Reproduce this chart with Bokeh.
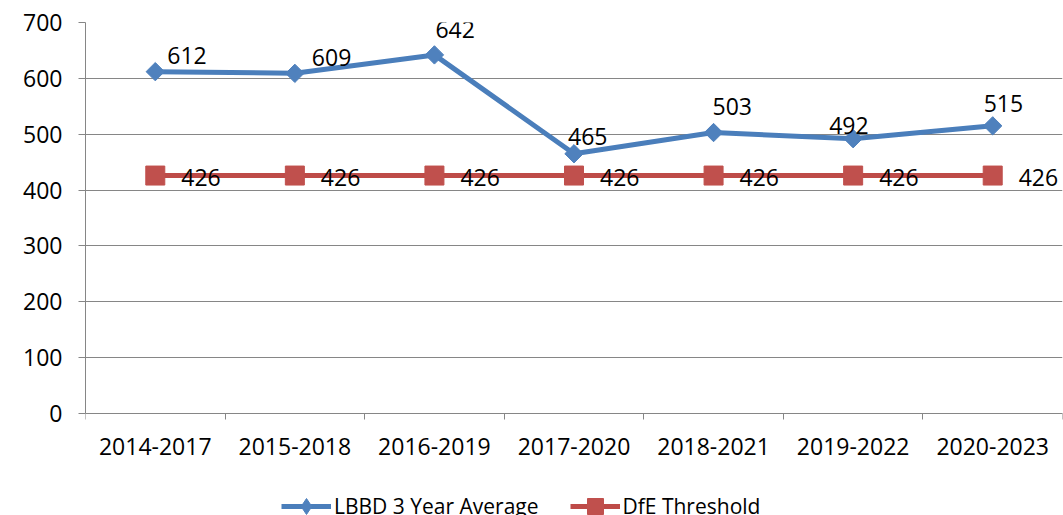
import numpy as np
from bokeh.plotting import figure
from bokeh.models import (ColumnDataSource, Range1d, FixedTicker, Legend, LegendItem,
                          LinearAxis)
from bokeh.core.properties import value
from bokeh.embed import file_html
from bokeh.resources import INLINE

# ---- data ----
categories = ["2014-2017", "2015-2018", "2016-2019", "2017-2020",
              "2018-2021", "2019-2022", "2020-2023"]
lbbd_avg = [612, 609, 642, 465, 503, 492, 515]
dfe_threshold = [426, 426, 426, 426, 426, 426, 426]
y_ticks = [0, 100, 200, 300, 400, 500, 600, 700]

# label placement tweaks (pixels) for the data labels
blue_dx = [12, 17, 1, -6, -1, -24, -9]
blue_dy = [-16, -16, -25, -17, -26, -13, -22]

FONT = "Open Sans"
FS = "23px"
BLUE_LINE = "#4A7EBB"
BLUE_MARK = "#4F81BD"
RED_LINE = "#BE4B48"
RED_MARK = "#C0504D"
GRID = "#868686"

W, H = 1063, 515
LEFT, RIGHT, TOP = 85, 1, 22
AXIS_Y = 413  # pixel row of value 0
YMAX = 700
units_per_px = YMAX / (AXIS_Y - TOP)
YMIN = -(H - AXIS_Y) * units_per_px

n = len(categories)
xs = [i + 0.5 for i in range(n)]

src_b = ColumnDataSource(dict(x=xs, y=lbbd_avg, t=[str(v) for v in lbbd_avg],
                              dx=blue_dx, dy=blue_dy))
src_r = ColumnDataSource(dict(x=xs, y=dfe_threshold, t=[str(v) for v in dfe_threshold]))

p = figure(width=W, height=H, output_backend="svg", toolbar_location=None,
           x_range=Range1d(0, n), y_range=Range1d(YMIN, YMAX),
           min_border_left=LEFT, min_border_right=RIGHT, min_border_top=TOP,
           min_border_bottom=0, x_axis_location=None, y_axis_location=None)
p.outline_line_color = None
p.background_fill_color = "white"
p.border_fill_color = "white"

# y axis
yax = LinearAxis(ticker=FixedTicker(ticks=y_ticks, minor_ticks=[]), bounds=(0, YMAX))
yax.axis_line_color = GRID
yax.major_tick_line_color = GRID
yax.major_tick_out = 7
yax.major_tick_in = 0
yax.minor_tick_line_color = None
yax.major_label_text_font = FONT
yax.major_label_text_font_size = FS
yax.major_label_text_color = "black"
yax.major_label_standoff = 16
p.add_layout(yax, "left")

# x axis: labels at category centres, tick marks at boundaries, fixed at value 0
xax = LinearAxis(ticker=FixedTicker(ticks=xs, minor_ticks=list(range(n + 1))),
                 fixed_location=0)
xax.major_label_overrides = {x: c for x, c in zip(xs, categories)}
xax.axis_line_color = GRID
xax.major_tick_line_color = None
xax.major_tick_out = 0
xax.major_tick_in = 0
xax.minor_tick_line_color = GRID
xax.minor_tick_out = 6
xax.minor_tick_in = 0
xax.major_label_text_font = FONT
xax.major_label_text_font_size = FS
xax.major_label_text_color = "black"
xax.major_label_standoff = 18
p.add_layout(xax, "below")

p.xgrid.visible = False
p.ygrid.ticker = FixedTicker(ticks=y_ticks)
p.ygrid.grid_line_color = GRID
p.ygrid.grid_line_width = 1

# series
lb = p.line("x", "y", source=src_b, line_color=BLUE_LINE, line_width=5)
# diamond glyph (used by the legend), covered by the rotated-square marker
mb_leg = p.scatter("x", "y", source=src_b, marker="diamond", size=16,
                   fill_color=BLUE_MARK, line_color=BLUE_MARK)
mb = p.scatter("x", "y", source=src_b, marker="square", angle=np.pi / 4, size=13,
               fill_color=BLUE_MARK, line_color=BLUE_MARK)
lr = p.line("x", "y", source=src_r, line_color=RED_LINE, line_width=5)
mr = p.scatter("x", "y", source=src_r, marker="square", size=19,
               fill_color=RED_MARK, line_color=RED_MARK)

# data labels
p.text("x", "y", text="t", source=src_b, x_offset="dx", y_offset="dy",
       text_font=value(FONT), text_font_size=FS, text_color="black",
       text_align="left", text_baseline="middle")
p.text("x", "y", text="t", source=src_r, x_offset=26, y_offset=2,
       text_font=value(FONT), text_font_size=FS, text_color="black",
       text_align="left", text_baseline="middle")

legend = Legend(items=[LegendItem(label="LBBD 3 Year Average", renderers=[lb, mb_leg]),
                       LegendItem(label="DfE Threshold", renderers=[lr, mr])],
                orientation="horizontal", location=(196, -11))
legend.border_line_color = None
legend.background_fill_alpha = 0
legend.padding = 0
legend.margin = 0
legend.spacing = 31
legend.glyph_width = 50
legend.glyph_height = 40
legend.label_standoff = 3
legend.label_text_font = FONT
legend.label_text_font_size = "21px"
legend.label_text_color = "black"
legend.label_height = 28
p.add_layout(legend, "center")

open("out.html", "w").write(file_html(p, INLINE))
